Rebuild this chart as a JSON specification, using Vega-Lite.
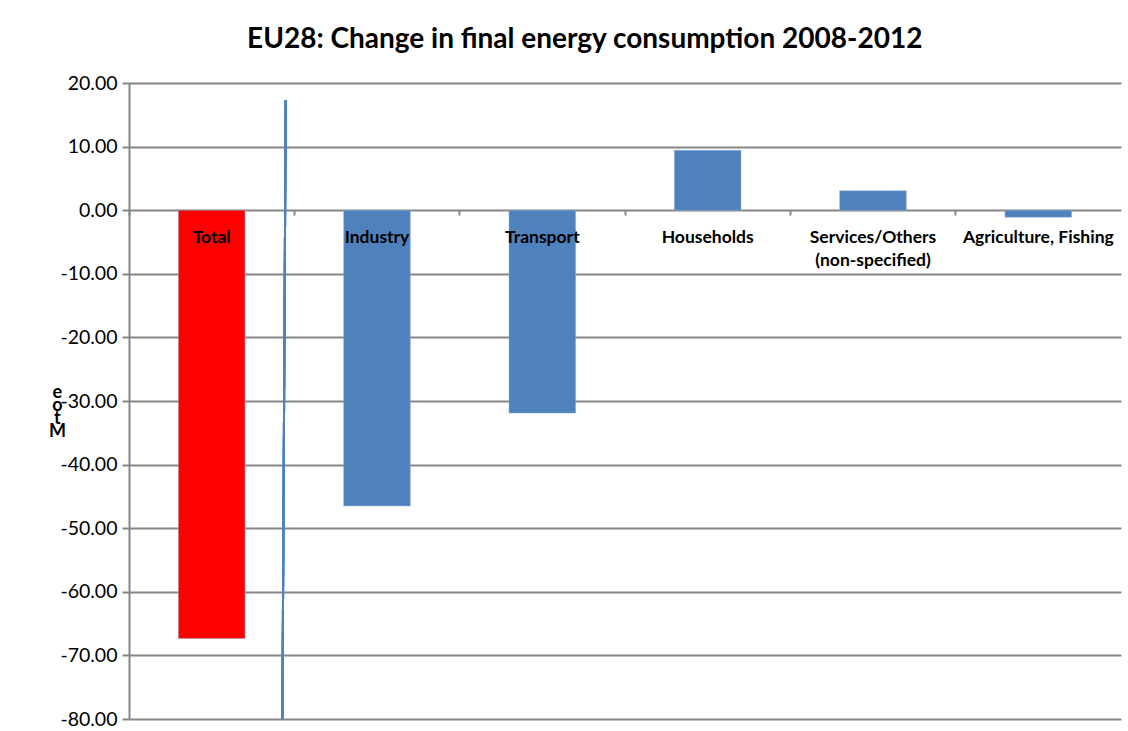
{
  "$schema": "https://vega.github.io/schema/vega-lite/v6.json",
  "width": 992,
  "height": 636,
  "autosize": {"type": "none"},
  "padding": {"left": 129, "top": 83, "right": 7, "bottom": 12},
  "background": "white",
  "title": {
    "text": "EU28: Change in final energy consumption 2008-2012",
    "font": "Lato",
    "fontSize": 28,
    "fontWeight": "bold",
    "color": "#000000",
    "anchor": "middle",
    "frame": "bounds",
    "offset": 19
  },
  "config": {"view": {"stroke": null}, "font": "Lato"},
  "data": {
    "values": [
      {"sector": "Total", "change": -67.35, "group": "Total"},
      {"sector": "Industry", "change": -46.5, "group": "Sector"},
      {"sector": "Transport", "change": -31.9, "group": "Sector"},
      {"sector": "Households", "change": 9.42, "group": "Sector"},
      {"sector": "Services/Others (non-specified)", "change": 3.05, "group": "Sector"},
      {"sector": "Agriculture, Fishing", "change": -1.1, "group": "Sector"}
    ]
  },
  "layer": [
    {
      "mark": {"type": "bar", "stroke": "#8FB0D8", "strokeWidth": 0.5},
      "encoding": {
        "x": {
          "field": "sector",
          "type": "nominal",
          "sort": null,
          "scale": {"paddingInner": 0.597, "paddingOuter": 0.2985},
          "axis": {
            "orient": "bottom",
            "offset": -509,
            "domain": false,
            "ticks": true,
            "tickSize": 5,
            "tickWidth": 2,
            "tickColor": "#868686",
            "bandPosition": -0.7405,
            "labelAngle": 0,
            "labelFont": "Lato",
            "labelFontWeight": "bold",
            "labelFontSize": 17.5,
            "labelColor": "#000000",
            "labelPadding": 13,
            "labelLineHeight": 23,
            "labelExpr": "datum.label == 'Services/Others (non-specified)' ? ['Services/Others', '(non-specified)'] : datum.label",
            "title": null,
            "zindex": 1
          }
        },
        "y": {
          "field": "change",
          "type": "quantitative",
          "scale": {"domain": [-80, 20], "nice": false},
          "axis": {
            "values": [-80, -70, -60, -50, -40, -30, -20, -10, 0, 10, 20],
            "format": ".2f",
            "labelExpr": "replace(datum.label, '\u2212', '-')",
            "grid": true,
            "gridColor": "#868686",
            "gridWidth": 2,
            "domain": true,
            "domainColor": "#868686",
            "domainWidth": 2,
            "tickColor": "#868686",
            "tickWidth": 2,
            "tickSize": 7,
            "labelFont": "Lato",
            "labelFontSize": 19.5,
            "labelColor": "#000000",
            "labelPadding": 5,
            "title": ["e", "o", "t", "M"],
            "titleAngle": 0,
            "titleFont": "Lato",
            "titleFontSize": 18,
            "titleFontWeight": "bold",
            "titleColor": "#000000",
            "titleLineHeight": 13,
            "titlePadding": -36,
            "zindex": 0
          }
        },
        "color": {
          "field": "group",
          "type": "nominal",
          "scale": {"domain": ["Total", "Sector"], "range": ["#FF0000", "#4F81BD"]},
          "legend": null
        }
      }
    },
    {
      "mark": {"type": "rule", "color": "#4F81BD", "strokeWidth": 2},
      "encoding": {
        "x": {"datum": "Industry", "bandPosition": -0.87},
        "x2": {"datum": "Industry", "bandPosition": -0.92},
        "y": {"datum": 17.3},
        "y2": {"datum": -80}
      }
    }
  ]
}
